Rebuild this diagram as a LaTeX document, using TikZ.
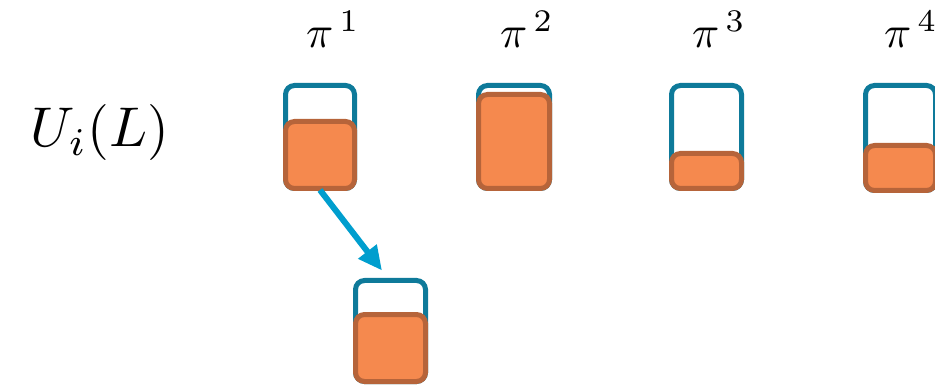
\documentclass[tikz,border=0pt]{standalone}
\usetikzlibrary{arrows.meta}
\definecolor{cardblue}{RGB}{14,122,154}
\definecolor{fillorange}{RGB}{245,137,78}
\definecolor{edgeorange}{RGB}{182,100,58}
\definecolor{arrowblue}{RGB}{0,158,206}
\tikzset{
  card/.style={rectangle, draw=cardblue, line width=5pt, rounded corners=9pt,
    inner sep=0pt, minimum width=70pt},
  load/.style={rectangle, draw=edgeorange, fill=fillorange, line width=5pt,
    rounded corners=9pt, inner sep=0pt, minimum width=70pt},
  move/.style={draw=arrowblue, line width=6pt,
    -{Triangle[length=24pt,width=22pt]}},
  lbl/.style={inner sep=0pt, anchor=base west},
  big/.style={inner sep=0pt, anchor=base}
}
\newcommand{\collabel}[1]{\scalebox{4.5}{$\pi^{\,#1}$}}
\begin{document}
\begin{tikzpicture}[x=1pt,y=1pt]
  \useasboundingbox (0,0) rectangle (935,386);

  % row label
  \node[big] (row) at (100,239) {\scalebox{5.6}{$U_i(L)$}};

  % column labels
  \node[lbl] (p1) at (306,338) {\collabel{1}};
  \node[lbl] (p2) at (500,338) {\collabel{2}};
  \node[lbl] (p3) at (692,338) {\collabel{3}};
  \node[lbl] (p4) at (884,338) {\collabel{4}};

  % capacity outlines
  \node[card, minimum height=103pt, minimum width=69pt] (u1) at (320,249) {};
  \node[card, minimum height=103pt, minimum width=71pt] (u2) at (514,249) {};
  \node[card, minimum height=103pt] (u3) at (706.5,249) {};
  \node[card, minimum height=105pt] (u4) at (900.5,248) {};
  \node[card, minimum height=101pt] (u5) at (390.5,55) {};

  % filled loads
  \node[load, minimum height=67pt, minimum width=69pt] (o1) at (320,231) {};
  \node[load, minimum height=94pt, minimum width=71pt] (o2) at (514,244.5) {};
  \node[load, minimum height=35pt] (o3) at (706.5,215) {};
  \node[load, minimum height=45pt] (o4) at (900.5,218) {};
  \node[load, minimum height=67pt] (o5) at (390.5,38) {};

  % transfer arrow
  \coordinate (tip) at ([shift={(-8.5,7.5)}]u5.north);
  \draw[move] ([yshift=1pt]o1.south) -- (tip);
\end{tikzpicture}
\end{document}
